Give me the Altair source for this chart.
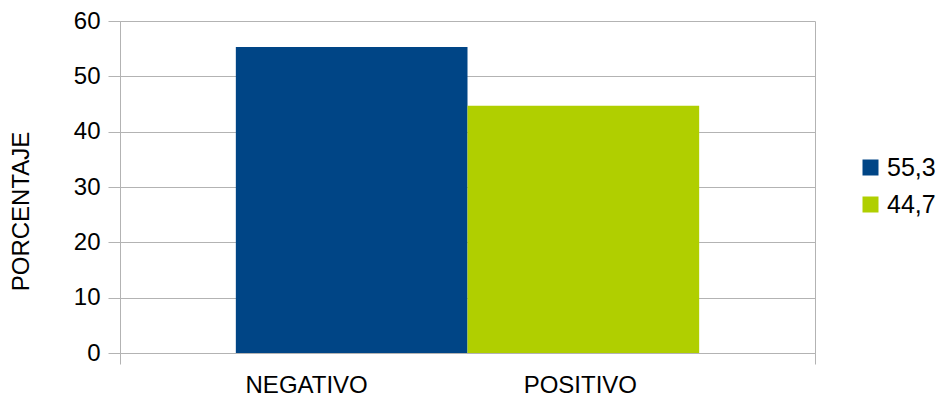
import altair as alt
import pandas as pd

# Chart data
categorias = ["NEGATIVO", "POSITIVO"]
porcentajes = [55.3, 44.7]
series = ["55,3", "44,7"]
colores = ["#004586", "#b0cf00"]
marcas_y = [0, 10, 20, 30, 40, 50, 60]

df = pd.DataFrame({
    "categoria": categorias,
    "porcentaje": porcentajes,
    "serie": series,
    "grupo": ["", ""],
})

FUENTE = "Liberation Sans"
GRIS = "#b3b3b3"

x_enc = alt.X(
    "grupo:N",
    scale=alt.Scale(paddingInner=0, paddingOuter=0),
    axis=alt.Axis(
        title=None,
        labels=False,
        tickBand="extent",
        tickSize=11,
        tickColor=GRIS,
        domainColor=GRIS,
        grid=True,
        gridColor=GRIS,
    ),
)
xoff_enc = alt.XOffset(
    "serie:N",
    scale=alt.Scale(domain=series, paddingInner=0, paddingOuter=0.5),
)

barras = alt.Chart(df).mark_bar().encode(
    x=x_enc,
    xOffset=xoff_enc,
    y=alt.Y(
        "porcentaje:Q",
        scale=alt.Scale(domain=[0, 60], nice=False),
        axis=alt.Axis(
            title="PORCENTAJE",
            values=marcas_y,
            labelFontSize=24,
            labelFont=FUENTE,
            labelColor="black",
            labelPadding=8,
            tickSize=12,
            tickColor=GRIS,
            domainColor=GRIS,
            gridColor=GRIS,
            titleFont=FUENTE,
            titleFontSize=24,
            titleFontWeight="normal",
            titleColor="black",
            titlePadding=40,
            titleY=190,
        ),
    ),
    color=alt.Color(
        "serie:N",
        scale=alt.Scale(domain=series, range=colores),
        legend=alt.Legend(
            title=None,
            orient="none",
            legendX=738,
            legendY=134,
            padding=0,
            symbolType="square",
            symbolSize=256,
            symbolStrokeWidth=0,
            labelFont=FUENTE,
            labelFontSize=25,
            labelColor="black",
            labelOffset=4,
            rowPadding=11,
        ),
    ),
)

etiqueta_base = alt.Chart(df).mark_text(
    font=FUENTE, fontSize=24, color="black", baseline="middle"
)

etiqueta_neg = etiqueta_base.mark_text(
    font=FUENTE, fontSize=24, color="black", baseline="middle", dx=-45
).transform_filter(alt.datum.categoria == "NEGATIVO").encode(
    x=x_enc, xOffset=xoff_enc, y=alt.value(365), text="categoria:N"
)

etiqueta_pos = etiqueta_base.mark_text(
    font=FUENTE, fontSize=24, color="black", baseline="middle", dx=-3
).transform_filter(alt.datum.categoria == "POSITIVO").encode(
    x=x_enc, xOffset=xoff_enc, y=alt.value(365), text="categoria:N"
)

chart = (
    alt.layer(barras, etiqueta_neg, etiqueta_pos)
    .properties(
        width=695,
        height=332,
        autosize=alt.AutoSizeParams(type="none"),
        padding={"left": 120, "top": 21, "right": 127, "bottom": 47},
        background="white",
    )
    .configure_view(stroke=None)
)

chart.save("out.html", embed_options={"renderer": "svg", "actions": False})
